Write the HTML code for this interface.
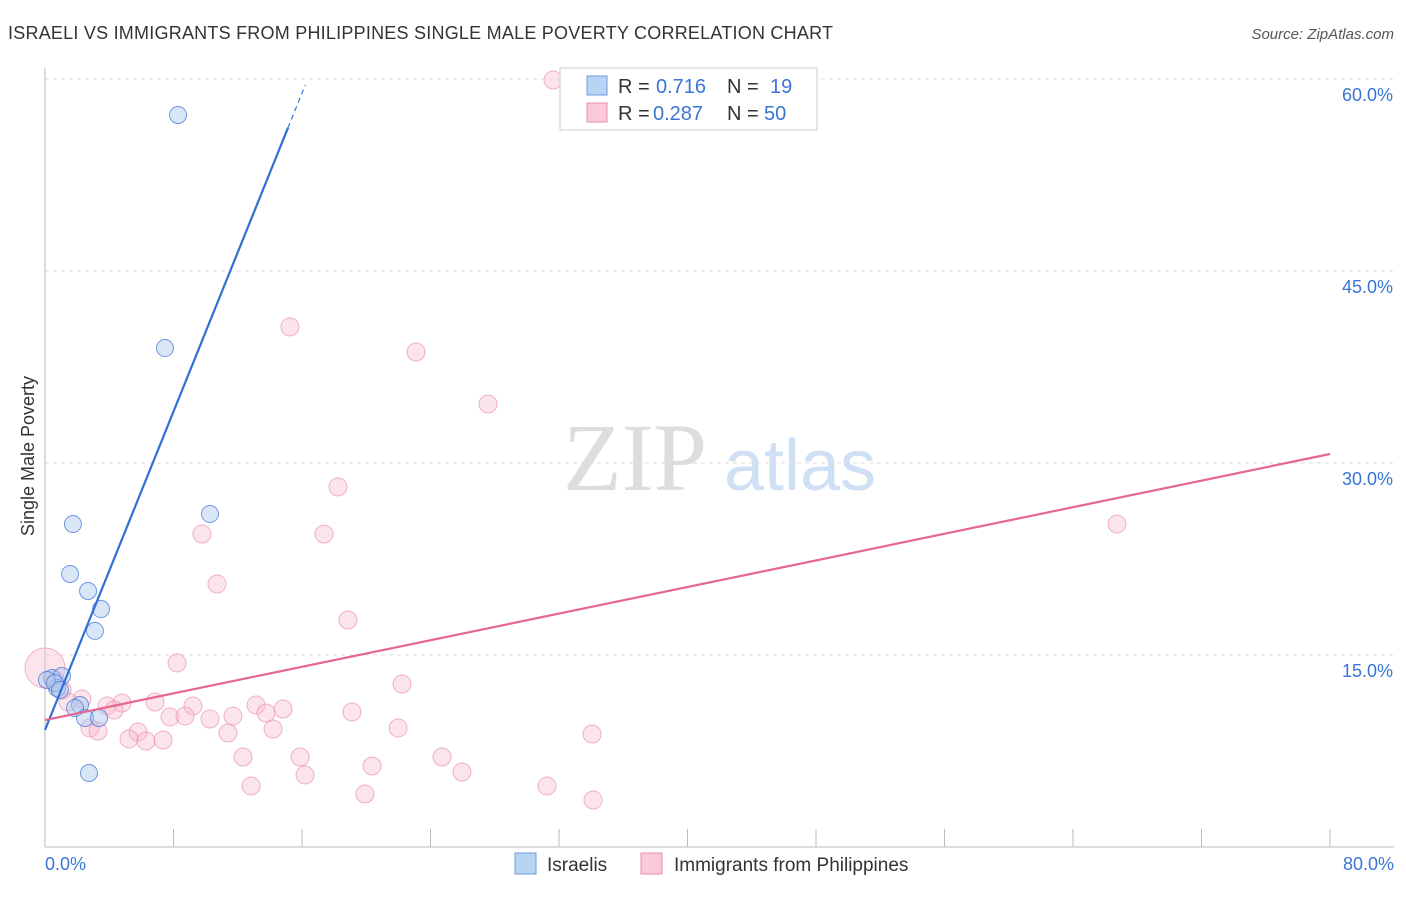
<!DOCTYPE html>
<html><head><meta charset="utf-8"><style>
body{margin:0;background:#fff;font-family:"Liberation Sans",sans-serif}
</style></head><body>
<svg id="c" width="1406" height="892" xmlns="http://www.w3.org/2000/svg">
<text x="8" y="39" font-size="18" fill="#333" textLength="825">ISRAELI VS IMMIGRANTS FROM PHILIPPINES SINGLE MALE POVERTY CORRELATION CHART</text>
<text x="1394" y="39" font-size="15" fill="#555" text-anchor="end" font-style="italic">Source: ZipAtlas.com</text>
<text x="635" y="490" font-size="96" fill="#ddd" font-family="Liberation Serif" text-anchor="middle">ZIP</text>
<text x="800" y="490" font-size="72" fill="#cfe0f5" text-anchor="middle">atlas</text>
<text transform="translate(34,456) rotate(-90)" font-size="18" fill="#333" text-anchor="middle">Single Male Poverty</text>
<g id="grid"></g><g id="axes"></g><g id="pts"></g><g id="lines"></g>
<g>
<rect x="560" y="68" width="257" height="62" fill="#fff" stroke="#ccc"/>
<rect x="587" y="76" width="20" height="19" fill="#b9d3f5" stroke="#6a9be0"/>
<rect x="587" y="103" width="20" height="19" fill="#fbcad8" stroke="#ea8fab"/>
<text y="93" font-size="20" fill="#333"><tspan x="618">R =</tspan><tspan x="656" fill="#3a75d6">0.716</tspan><tspan x="727">N =</tspan><tspan x="770" fill="#3a75d6">19</tspan></text>
<text y="120" font-size="20" fill="#333"><tspan x="618">R =</tspan><tspan x="653" fill="#3a75d6">0.287</tspan><tspan x="727">N =</tspan><tspan x="764" fill="#3a75d6">50</tspan></text>
</g>
<g>
<rect x="515" y="853" width="21" height="21" fill="#b9d3f5" stroke="#6a9be0"/>
<text x="547" y="871" font-size="19" fill="#333">Israelis</text>
<rect x="641" y="853" width="21" height="21" fill="#fbcad8" stroke="#ea8fab"/>
<text x="674" y="871" font-size="19" fill="#333">Immigrants from Philippines</text>
</g>
</svg>
<script>
const blueX=[8.28,7.47,10.27,1.74,1.56,2.68,3.49,3.11,0.44,1.06,0.75,2.18,1.87,2.49,3.36,2.74,0.12,0.62,0.93];
const blueY=[57.19,38.98,26.02,25.23,21.33,20.0,18.59,16.88,13.2,13.36,12.42,11.09,10.86,10.08,10.08,5.78,13.05,12.81,12.27];
const pinkX=[31.63,15.25,23.1,27.58,18.24,66.74,9.77,17.37,10.71,18.86,8.22,22.23,2.3,1.43,4.79,6.85,9.21,3.86,4.3,13.14,14.82,7.78,8.72,10.27,11.7,13.76,19.11,2.8,3.3,5.79,5.23,6.29,7.35,11.39,14.2,21.98,34.06,12.33,15.88,24.72,20.36,16.19,25.96,12.83,19.92,31.25,34.12,1.06,0.62,0];
const pinkY=[59.92,40.63,38.67,34.61,28.13,25.23,24.45,24.45,20.55,17.73,14.38,12.73,11.56,11.33,11.25,11.33,11.02,11.02,10.7,11.09,10.78,10.16,10.23,10.0,10.23,10.47,10.55,9.3,9.06,8.98,8.44,8.28,8.36,8.91,9.22,9.3,8.83,7.03,7.03,7.03,6.33,5.63,5.86,4.77,4.14,4.77,3.67,12.27,13.05,13.98];
const yTicks=[15,30,45,60];
const xTickLabels=["0.0%","80.0%"];
const blueLine=[9.14,3.11];
const pinkLine=[9.92,0.2598];
const NS="http://www.w3.org/2000/svg";
const X=v=>45+v/80*1285, Y=v=>847-v/60*768;
function mk(t,a,p){const e=document.createElementNS(NS,t);for(const k in a)e.setAttribute(k,a[k]);p.appendChild(e);return e;}
const g=document.getElementById('grid'),ax=document.getElementById('axes'),pts=document.getElementById('pts'),ln=document.getElementById('lines');
yTicks.forEach(v=>{
 const l=mk('line',{x1:45,x2:1394,y1:Y(v),y2:Y(v),stroke:'#ddd','stroke-dasharray':'4,4'},g);
 
 
 const t=mk('text',{x:1393,y:Y(v)+22,'font-size':18,fill:'#3a75d6','text-anchor':'end'},ax);
 t.textContent=v.toFixed(1)+'%';
 
 
});
const ya=mk('line',{x1:45,x2:45,y1:68,y2:847,stroke:'#bbb'},ax);


const xa=mk('line',{x1:45,x2:1394,y1:847,y2:847,stroke:'#bbb'},ax);


for(let i=1;i<=10;i++){const tk=mk('line',{x1:X(i*8),x2:X(i*8),y1:829,y2:847,stroke:'#bbb'},ax);
 
 }
[[0,45,'start'],[80,1394,'end']].forEach((d,i)=>{const t=mk('text',{x:d[1],y:870,'font-size':18,fill:'#3a75d6','text-anchor':d[2]},ax);t.textContent=xTickLabels[i];
 
 });
pinkX.forEach((x,i)=>{const c=mk('circle',{cx:X(x),cy:Y(pinkY[i]),r:i==pinkX.length-1?20:9,fill:'rgba(248,185,205,0.38)',stroke:'rgba(230,140,170,0.65)','stroke-width':1},pts);
 
 });
blueX.forEach((x,i)=>{const c=mk('circle',{cx:X(x),cy:Y(blueY[i]),r:8.5,fill:'rgba(170,200,240,0.45)',stroke:'rgba(70,120,215,0.75)','stroke-width':1},pts);
 
 });
const bEnd=15.13,bDash=16.2;
const b1=mk('line',{x1:X(0),y1:Y(blueLine[0]),x2:X(bEnd),y2:Y(blueLine[0]+blueLine[1]*bEnd),stroke:'#2f6fd6','stroke-width':2.2},ln);


const b2=mk('line',{x1:X(bEnd),y1:Y(blueLine[0]+blueLine[1]*bEnd),x2:X(bDash),y2:Y(blueLine[0]+blueLine[1]*bDash),stroke:'#2f6fd6','stroke-width':1.2,'stroke-dasharray':'5,4'},ln);


const p1=mk('line',{x1:X(0),y1:Y(pinkLine[0]),x2:X(80),y2:Y(pinkLine[0]+pinkLine[1]*80),stroke:'#e5678f','stroke-width':2.2},ln);


</script>
</body></html>
